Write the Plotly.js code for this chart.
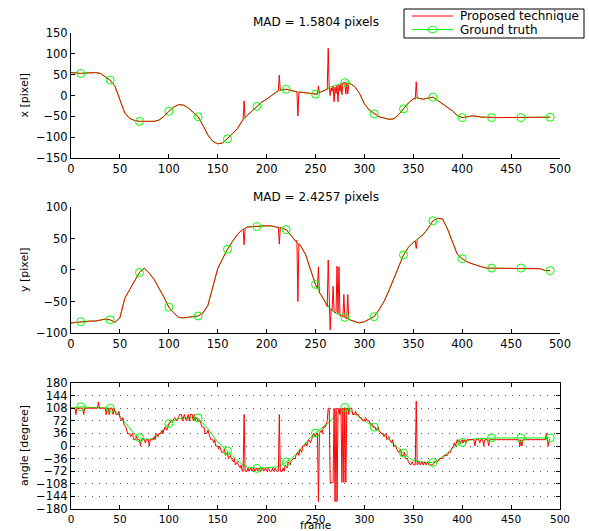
<!DOCTYPE html>
<html><head><meta charset="utf-8">
<script src="https://cdn.plot.ly/plotly-3.0.1.min.js"></script>
<style>html,body{margin:0;padding:0;background:#fff;} #plot{width:589px;height:531px;}</style>
</head><body><div id="plot"></div>
<script>
// ---- data ----
const frames = [0,5,10,15,20,25,30,35,40,45,50,55,60,65,70,75,80,85,90,95,100,105,110,115,120,125,130,135,140,145,150,155,160,165,170,175,180,185,190,195,200,205,210,215,220,225,230,235,240,245,250,255,260,265,270,275,280,285,290,295,300,305,310,315,320,325,330,335,340,345,350,355,360,365,370,375,380,385,390,395,400,405,410,415,420,425,430,435,440,445,450,455,460,465,470,475,480,485,490];
const gtXpix = [55,54,53,54,55,55,53,46,37,22,-8,-42,-55,-60,-62,-62,-62,-62,-59,-50,-38,-28,-22,-23,-30,-40,-51,-72,-95,-110,-116,-114,-104,-92,-80,-62,-48,-37,-26,-16,-9,0,9,13,15,12,9,8,6,5,3,8,13,20,24,28,31,29,22,5,-20,-35,-44,-51,-54,-57,-56,-46,-32,-18,-8,-6,-9,-6,-4,-12,-20,-27,-37,-48,-53,-51,-49,-50,-52,-52,-53,-53,-53,-53,-53,-53,-53,-53,-53,-53,-53,-52,-52];
const gtYpix = [-84,-83,-82,-82,-81,-81,-80,-78,-79,-83,-76,-45,-31,-18,-4,3,-5,-15,-28,-43,-59,-68,-75,-76,-75,-74,-73,-68,-56,-27,2,18,33,45,56,64,68,69,69,70,70,70,68,67,64,55,45,38,24,0,-23,-38,-51,-62,-68,-72,-75,-79,-82,-84,-82,-78,-74,-63,-50,-33,-15,5,24,36,44,50,56,66,78,82,81,65,45,25,18,13,10,7,5,3,3,3,3,3,3,3,3,3,3,3,2,-1,-1];
const gtAngle = [108,110,112,111,110,109,108,108,108,100,87,68,50,33,24,20,19,22,32,48,64,72,78,80,81,81,80,65,49,30,12,-2,-14,-28,-41,-52,-60,-63,-64,-63,-62,-61,-60,-55,-46,-36,-24,-8,11,25,37,48,58,70,86,100,110,102,92,82,73,62,54,42,30,18,7,-6,-20,-32,-41,-44,-46,-47,-47,-40,-31,-20,-7,3,10,15,19,21,22,23,23,23,23,23,23,23,23,23,23,23,23,23,23];
const markerFrames = [10,40,70,100,130,160,190,220,250,280,310,340,370,400,430,460,490];

// proposed technique: deviations from the smooth track (x, y panels)
const redXSpikeFrames = [176,177,178,212,213,214,231,232,233,252,253,254,262,263,264,265,266,267,268,269,270,271,272,273,274,275,276,277,278,279,281,282,283,284,352,353,354];
const redXSpikeVals   = [-57,-13,-53,12,49,13,9,-49,8,3,23,6,15,113,20,0,18,10,22,-15,20,5,24,-15,25,10,28,2,30,31,3,30,4,30,-8,33,-6];
const redYSpikeFrames = [176,177,178,212,213,214,231,232,233,252,253,254,261,262,263,264,265,266,267,268,269,270,271,272,273,274,275,276,277,278,279,281,282,283,284,352,353,354];
const redYSpikeVals   = [65,40,66,68,41,67,47,-50,42,-29,5,-36,-55,-58,16,-60,-95,-62,-64,-26,-66,-68,-67,6,-69,5,-72,-72,-74,-74,-39,-76,-77,-39,-78,46,34,48];
// proposed technique: angle (quantised, noisy)
const redAngleFrames = [0,4,5,6,12,13,14,27,28,29,35,36,37,38,39,40,42,43,44,45,46,48,49,50,52,53,54,56,57,58,60,61,63,64,66,67,68,70,71,72,75,76,77,79,80,81,84,85,86,87,89,90,92,93,94,96,98,99,100,102,104,106,108,110,111,113,114,116,118,120,121,122,124,125,126,127,128,130,132,134,136,137,139,140,141,143,145,146,147,148,150,151,152,154,156,157,158,160,161,163,164,166,167,168,170,171,173,174,175,176,177,178,180,181,182,184,185,187,188,190,191,193,194,196,197,199,200,202,203,205,206,207,209,210,212,213,214,216,217,218,219,221,222,224,225,227,229,230,232,233,234,236,237,239,240,241,243,245,246,248,250,251,252,253,254,256,257,258,260,261,262,263,264,265,268,269,270,271,272,273,274,275,276,277,278,279,280,281,282,283,284,285,287,288,290,291,292,294,295,297,298,300,301,303,305,306,308,309,311,312,314,315,317,319,320,322,323,325,326,328,329,330,332,333,335,337,338,340,341,342,344,345,347,349,350,352,353,354,356,357,359,360,362,363,365,366,368,370,372,375,377,380,382,385,386,388,389,391,392,393,395,396,397,398,400,401,402,404,405,410,412,413,414,417,418,419,421,422,423,426,427,428,440,458,459,460,461,462,485,486,487,488,489,490];
const redAngleDeg = [108,108,90,108,108,90,108,108,126,108,108,90,108,108,90,108,108,90,108,99,90,90,99,81,72,81,63,54,45,36,36,27,36,18,18,27,18,18,0,18,18,9,18,18,0,18,18,27,18,36,27,36,36,45,36,54,45,54,63,72,72,81,72,81,90,90,72,90,72,90,72,90,90,72,90,72,81,72,72,54,54,36,36,45,36,18,18,9,18,0,0,-9,0,-18,-18,-9,-27,-18,-36,-27,-36,-45,-36,-54,-45,-54,-63,-54,-72,-72,90,-72,-72,-63,-72,-63,-72,-63,-72,-63,-72,-63,-72,-63,-72,-63,-72,-63,-72,-72,-63,-72,-63,-72,-72,90,-72,-72,-63,-72,-54,-63,-45,-54,-45,-36,-36,-27,-18,-27,-9,-18,0,0,9,0,18,9,18,36,27,36,36,-159,36,45,36,54,54,63,72,108,108,-104,-104,108,-159,108,-159,90,108,90,108,-104,108,-104,108,-104,108,108,90,108,108,90,90,99,90,90,81,81,72,72,81,72,72,63,63,54,54,45,54,45,36,36,27,36,18,27,18,9,18,0,0,-9,-18,-9,-27,-27,-18,-36,-36,-45,-54,-45,-54,-54,128,-54,-45,-54,-45,-54,-45,-54,-45,-54,-54,-54,-45,-45,-36,-36,-27,-27,-18,-18,-9,0,9,0,18,9,18,9,18,9,18,9,18,18,18,0,18,18,9,18,18,0,18,18,0,18,18,18,0,18,0,18,18,36,18,0,18,18];

const MAD_X = 'MAD = 1.5804 pixels';
const MAD_Y = 'MAD = 2.4257 pixels';

// ---- helpers ----
function mergeTrack(bf, bv, sf, sv) {
  const pts = [];
  bf.forEach((f, i) => { if (!sf.includes(f)) pts.push([f, bv[i]]); });
  sf.forEach((f, i) => pts.push([f, sv[i]]));
  pts.sort((a, b) => a[0] - b[0]);
  return { x: pts.map(p => p[0]), y: pts.map(p => p[1]) };
}
function pick(vals, mf) { return mf.map(f => vals[frames.indexOf(f)]); }

const RED = '#ff0000', GREEN = '#00ff00';
const redX = mergeTrack(frames, gtXpix, redXSpikeFrames, redXSpikeVals);
const redY = mergeTrack(frames, gtYpix, redYSpikeFrames, redYSpikeVals);

function panel(gt, red, xa, ya) {
  return [
    { x: frames, y: gt, xaxis: xa, yaxis: ya, mode: 'lines', line: { color: GREEN, width: 1 }, showlegend: false, hoverinfo: 'skip' },
    { x: red.x, y: red.y, xaxis: xa, yaxis: ya, mode: 'lines', line: { color: RED, width: 1 }, showlegend: false, hoverinfo: 'skip' },
    { x: markerFrames, y: pick(gt, markerFrames), xaxis: xa, yaxis: ya, mode: 'markers',
      marker: { symbol: 'circle-open', size: 8, color: GREEN, line: { color: GREEN, width: 1 } }, showlegend: false, hoverinfo: 'skip' }
  ];
}
const data = [].concat(
  panel(gtXpix, redX, 'x', 'y'),
  panel(gtYpix, redY, 'x2', 'y2'),
  panel(gtAngle, { x: redAngleFrames, y: redAngleDeg }, 'x3', 'y3')
);

const FONT = 'DejaVu Sans, Arial, sans-serif';
function ax(extra) {
  return Object.assign({
    showline: true, linecolor: '#000', linewidth: 1, ticks: 'inside', ticklen: 4, tickcolor: '#000',
    showgrid: false, zeroline: false, autorange: false, fixedrange: true,
    tickfont: { family: FONT, size: 11.5, color: '#000' }
  }, extra);
}
const XT = { dtick: 50, tick0: 0, range: [0, 500] };
const H = 476, W = 489, L = 71, T = 33;
const px = v => (v - L) / W;
const py = v => (T + H - v) / H;

const layout = {
  width: 589, height: 531,
  margin: { l: 71, r: 29, t: 33, b: 22 },
  paper_bgcolor: '#fff', plot_bgcolor: '#fff',
  font: { family: FONT, size: 12, color: '#000' },
  showlegend: false,
  xaxis:  ax(Object.assign({ domain: [0, 1], anchor: 'y' }, XT)),
  yaxis:  ax({ domain: [0.7374, 1], anchor: 'x', range: [-150, 150], dtick: 50, tick0: 0 }),
  xaxis2: ax(Object.assign({ domain: [0, 1], anchor: 'y2' }, XT)),
  yaxis2: ax({ domain: [0.3697, 0.6345], anchor: 'x2', range: [-100, 100], dtick: 50, tick0: 0 }),
  xaxis3: ax(Object.assign({ domain: [0, 1], anchor: 'y3', mirror: 'ticks', tickfont: { family: FONT, size: 10.5, color: '#000' } }, XT)),
  yaxis3: ax({ domain: [0, 0.2647], anchor: 'x3', range: [-180, 180], dtick: 36, tick0: 0, mirror: 'ticks',
               showgrid: true, gridcolor: '#555', gridwidth: 1, griddash: '1px,6px' }),
  shapes: [
    { type: 'rect', xref: 'paper', yref: 'paper', x0: px(404), x1: px(584), y0: py(38), y1: py(9), line: { color: '#000', width: 1 }, fillcolor: '#fff', layer: 'above' },
    { type: 'line', xref: 'paper', yref: 'paper', x0: px(412), x1: px(453), y0: py(16), y1: py(16), line: { color: RED, width: 1 }, layer: 'above' },
    { type: 'line', xref: 'paper', yref: 'paper', x0: px(412), x1: px(453), y0: py(29.5), y1: py(29.5), line: { color: GREEN, width: 1 }, layer: 'above' },
    { type: 'circle', xref: 'paper', yref: 'paper', x0: px(428), x1: px(437), y0: py(32.5), y1: py(26.5), line: { color: GREEN, width: 1 }, layer: 'above' }
  ],
  annotations: [
    { text: MAD_X, xref: 'paper', yref: 'paper', x: 0.5, y: py(22), xanchor: 'center', yanchor: 'middle', showarrow: false, font: { size: 12 } },
    { text: MAD_Y, xref: 'paper', yref: 'paper', x: 0.5, y: py(197), xanchor: 'center', yanchor: 'middle', showarrow: false, font: { size: 12 } },
    { text: 'Proposed technique', xref: 'paper', yref: 'paper', x: px(458), y: py(16), xanchor: 'left', yanchor: 'middle', showarrow: false, font: { size: 12 } },
    { text: 'Ground truth', xref: 'paper', yref: 'paper', x: px(458), y: py(29.5), xanchor: 'left', yanchor: 'middle', showarrow: false, font: { size: 12 } },
    { text: 'x [pixel]', xref: 'paper', yref: 'paper', x: px(24), y: py(95.5), xanchor: 'center', yanchor: 'middle', textangle: -90, showarrow: false, font: { size: 11 } },
    { text: 'y [pixel]', xref: 'paper', yref: 'paper', x: px(24), y: py(270), xanchor: 'center', yanchor: 'middle', textangle: -90, showarrow: false, font: { size: 11 } },
    { text: 'angle [degree]', xref: 'paper', yref: 'paper', x: px(24), y: py(446), xanchor: 'center', yanchor: 'middle', textangle: -90, showarrow: false, font: { size: 11 } },
    { text: 'frame', xref: 'paper', yref: 'paper', x: 0.5, y: py(524.5), xanchor: 'center', yanchor: 'middle', showarrow: false, font: { size: 10.5 } }
  ]
};

Plotly.newPlot('plot', data, layout, { staticPlot: true, displayModeBar: false });
</script>
</body></html>
